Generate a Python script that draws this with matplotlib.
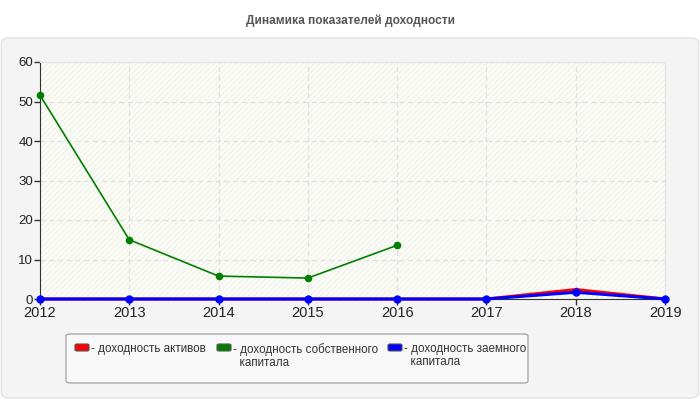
import matplotlib
matplotlib.use("Agg")
import matplotlib.pyplot as plt
from matplotlib.patches import FancyBboxPatch
import numpy as np

plt.rcParams['font.family'] = ['Liberation Sans', 'DejaVu Sans']

years = [2012, 2013, 2014, 2015, 2016, 2017, 2018, 2019]
assets = [0.0, 0.0, 0.0, 0.0, 0.0, 0.0, 2.4, 0.0]
equity = [51.6, 15.0, 5.8, 5.3, 13.6, None, None, None]
debt = [0.0, 0.0, 0.0, 0.0, 0.0, 0.0, 1.7, 0.0]
labels = ["- доходность активов", "- доходность собственного\n  капитала", "- доходность заемного\n  капитала"]
colors = ["#ff0000", "#008000", "#0000ff"]
yticks = [0, 10, 20, 30, 40, 50, 60]

fig = plt.figure(figsize=(7, 4), dpi=100)
fig.patch.set_facecolor("white")

# outer panel
panel = FancyBboxPatch((0.002, 0.005), 0.996, 0.9, boxstyle="round,pad=0,rounding_size=0.012",
                       transform=fig.transFigure, facecolor="#f4f4f4", edgecolor="#e4e4e4",
                       linewidth=1, zorder=-5)
fig.patches.append(panel)

fig.text(0.5, 0.948, "Динамика показателей доходности", ha="center", va="center",
         fontsize=8.6, fontweight="bold", color="#555555")

ax = fig.add_axes([0.0571, 0.2525, 0.893, 0.5925])
ax.set_zorder(2)
ax.set_facecolor("#fdfdf8")
ax.patch.set_hatch("//////")
ax.patch.set_edgecolor("#f2f2ec")
ax.patch.set_linewidth(0)

x = np.array(years, dtype=float)
eq = np.array([np.nan if v is None else v for v in equity], dtype=float)
ax.plot(x, eq, color=colors[1], lw=1.2, marker="o", ms=4.5, zorder=4, clip_on=False)
ax.plot(x, assets, color=colors[0], lw=2.2, marker="o", ms=3, zorder=5, clip_on=False)
ax.plot(x, debt, color=colors[2], lw=2.2, marker="o", ms=5, zorder=6, clip_on=False)

ax.set_xlim(2012, 2019)
ax.set_ylim(0, 60)
ax.set_xticks(years)
ax.set_yticks(yticks)
ax.set_xticklabels([str(y) for y in years], fontsize=10.5, color="#222222")
ax.set_yticklabels([str(v) for v in yticks], fontsize=9.5, color="#222222")
ax.tick_params(axis="both", length=4, width=1, color="#333333", pad=1)
ax.grid(True, color="#e0e0e0", linestyle=(0, (4, 3)), linewidth=0.9)
ax.set_axisbelow(True)
for s in ["top", "right"]:
    ax.spines[s].set_color("#e2e2e2")
for s in ["left", "bottom"]:
    ax.spines[s].set_color("#333333")

# legend
lb = FancyBboxPatch((66 / 700, 1 - 383 / 400), (528 - 66) / 700, 49 / 400,
                    boxstyle="round,pad=0,rounding_size=0.006", transform=fig.transFigure,
                    facecolor="#f8f8f8", edgecolor="#aaaaaa", linewidth=1, zorder=1)
fig.patches.append(lb)
hx = [75, 217, 388]
tx = [91, 233, 404]
for h, t, c, lab in zip(hx, tx, colors, labels):
    p = FancyBboxPatch((h / 700, 1 - 351 / 400), 14 / 700, 7 / 400,
                       boxstyle="round,pad=0,rounding_size=0.003", transform=fig.transFigure,
                       facecolor=c, edgecolor="#555555", linewidth=0.8, zorder=2)
    fig.patches.append(p)
    fig.text(t / 700, 1 - 343 / 400, lab, ha="left", va="top", fontsize=8.4,
             color="#333333", linespacing=1.1, zorder=3)

fig.savefig("out.png", dpi=100)
